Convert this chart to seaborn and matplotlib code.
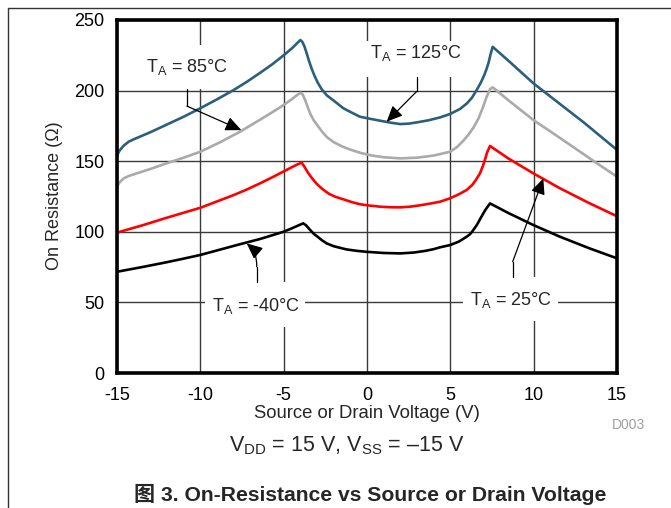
import numpy as np
import pandas as pd
import matplotlib
matplotlib.use("Agg")
import matplotlib.pyplot as plt
import seaborn as sns
from matplotlib.patches import Rectangle
from matplotlib.lines import Line2D

# ---------------- data ----------------
v_125 = [-15, -14.85, -14.6, -14.3, -14, -13, -12, -11, -10, -9, -8, -7.2, -6.4, -5.7, -5,
         -4.5, -4.2, -4.0, -3.88, -3.76, -3.62, -3.48, -3.32, -3.15, -2.95, -2.72, -2.4, -2.04,
         -1.42, -0.9, -0.42, 0.2, 0.78, 1.4, 2.0, 2.5, 3.0, 3.7, 4.38, 5.0, 5.58, 6.0, 6.3,
         6.58, 6.8, 7.0, 7.15, 7.3, 7.42, 7.54, 8.5, 10, 11.58, 13, 15]
r_125 = [154, 157.5, 161, 163.8, 165.5, 170.5, 176, 181.5, 187.5, 193.8, 200.4, 206.3, 212.7,
         218.5, 225, 230, 233.5, 235.8, 234.5, 231.5, 226.5, 221, 215.5, 210.5, 205.5, 201,
         196.5, 193.3, 187.5, 184.3, 181.5, 180, 178.7, 177.3, 176.3, 176.6, 177.5, 179, 181,
         183.5, 187, 191, 195, 200.4, 205, 210, 214.5, 220, 226, 231, 221, 205, 190.5, 177.5,
         158]

v_85 = [-15, -14.85, -14.6, -14.3, -13, -12, -11, -10, -8.8, -7.6, -6.4, -5.5, -5, -4.5, -4.2,
        -3.98, -3.85, -3.7, -3.55, -3.4, -3.2, -3.0, -2.7, -2.4, -2.0, -1.5, -1.02, -0.42,
        0.3, 1.0, 2.0, 3.0, 4.0, 4.98, 5.4, 5.78, 6.1, 6.4, 6.7, 6.95, 7.18, 7.38, 7.54, 8.5,
        10, 11.2, 12.5, 13.8, 15]
r_85 = [132, 135, 137.8, 139.5, 144.5, 148.6, 152.5, 156.7, 163.5, 171, 179.5, 186, 189.8,
        194, 196.8, 198.5, 197, 193, 188, 183.5, 179, 175.8, 171, 167, 163.5, 160.5, 158.3,
        156, 154, 152.8, 152, 152.5, 154, 156.7, 160, 164.5, 169, 174, 180.5, 188, 195.7,
        201, 202.3, 193, 179, 169.5, 159, 148.5, 139]

v_25 = [-15, -13.5, -12, -11, -10, -9, -8, -7.2, -6.42, -5.7, -5.02, -4.5, -4.2, -3.92, -3.75,
        -3.55, -3.3, -3.02, -2.7, -2.3, -1.9, -1.42, -0.9, -0.42, 0.2, 0.78, 1.4, 2.0, 2.6,
        3.2, 3.8, 4.38, 4.98, 5.5, 5.98, 6.3, 6.55, 6.78, 6.95, 7.08, 7.2, 7.38, 8.5, 9.98,
        11.58, 13.3, 15]
r_25 = [99.4, 104.5, 110, 113.5, 117, 121.5, 126, 130, 134.3, 138.5, 142.6, 145.8, 147.6, 149,
        146, 142, 138, 134, 130.5, 127, 124.8, 123, 121, 119.5, 118.5, 117.8, 117.4, 117.3,
        117.8, 118.8, 120, 121.3, 123.7, 126.5, 129.6, 133, 137, 141.4, 146.5, 151, 156,
        160.8, 151.8, 141.4, 130.8, 120.5, 111]

v_m40 = [-15, -13.5, -12, -11, -10, -9, -8, -7.2, -6.42, -5.7, -5.02, -4.5, -4.1, -3.82, -3.65,
         -3.45, -3.22, -3.0, -2.7, -2.42, -2.0, -1.6, -1.22, -0.6, 0, 1.0, 2.0, 2.8, 3.5, 4.0,
         4.38, 4.98, 5.5, 5.98, 6.2, 6.38, 6.6, 6.88, 7.1, 7.38, 8.5, 9.98, 11.58, 13.3, 15]
r_m40 = [71.7, 75, 78.5, 81, 83.6, 86.8, 90, 92.5, 94.9, 97.5, 100, 102.5, 104.6, 106, 104.5,
         101.8, 98.9, 96.8, 94, 91.8, 89.8, 88.6, 87.5, 86.5, 85.8, 85, 84.7, 85.3, 86.5, 87.7,
         89, 90.6, 93, 96.5, 98.5, 101.3, 105, 111, 115.5, 120.1, 113.2, 104.8, 96.5, 88.5,
         81.2]

series = ["125", "85", "25", "-40"]
colors = {"125": "#2b5f7b", "85": "#aaaaaa", "25": "#ff0000", "-40": "#000000"}

x_ticks = [-15, -10, -5, 0, 5, 10, 15]
y_ticks = [0, 50, 100, 150, 200, 250]

df = pd.concat([
    pd.DataFrame({"V": v_125, "R": r_125, "T": "125"}),
    pd.DataFrame({"V": v_85, "R": r_85, "T": "85"}),
    pd.DataFrame({"V": v_25, "R": r_25, "T": "25"}),
    pd.DataFrame({"V": v_m40, "R": r_m40, "T": "-40"}),
], ignore_index=True)

# ---------------- style ----------------
sns.set_theme(style="white")
plt.rcParams["font.family"] = ["Liberation Sans", "Noto Sans CJK SC", "DejaVu Sans"]
plt.rcParams["axes.unicode_minus"] = False
plt.rcParams["mathtext.fontset"] = "custom"
plt.rcParams["mathtext.rm"] = "Liberation Sans"
plt.rcParams["mathtext.it"] = "Liberation Sans:italic"
plt.rcParams["mathtext.bf"] = "Liberation Sans:bold"

W, H = 671, 508
fig = plt.figure(figsize=(W / 100, H / 100), dpi=100)
ax = fig.add_axes([117 / W, 135 / H, 500 / W, 353 / H])

sns.lineplot(data=df, x="V", y="R", hue="T", hue_order=series, palette=colors,
             estimator=None, sort=False, legend=False, lw=1.9, ax=ax, zorder=3,
             solid_joinstyle="round", solid_capstyle="round")

ax.set_xlim(-15, 15)
ax.set_ylim(0, 250)
ax.set_xticks(x_ticks)
ax.set_yticks(y_ticks)
ax.set_xticklabels([str(t) for t in x_ticks])
ax.set_yticklabels([str(t) for t in y_ticks])
ax.tick_params(axis="both", length=0, labelsize=13, colors="black")
ax.tick_params(axis="x", pad=10)
ax.tick_params(axis="y", pad=9)
ax.set_xlabel("")
ax.set_ylabel("")
ax.grid(True, color="#3a3a3a", lw=1.0)
ax.set_axisbelow(True)
for s in ax.spines.values():
    s.set_linewidth(2.6)
    s.set_color("black")
    s.set_zorder(5)

# ---------------- label boxes & annotations ----------------
def label(cx, cy, txt, box):
    x0, x1, y0, y1 = box
    ax.add_patch(Rectangle((x0, y0), x1 - x0, y1 - y0, facecolor="white",
                           edgecolor="none", zorder=2))
    ax.text(cx, cy, txt, ha="center", va="center", fontsize=13, zorder=4)

def arrow(p0, p1, tip, rad=0.0):
    ax.plot([p0[0], p1[0]], [p0[1], p1[1]], color="black", lw=0.9, zorder=4)
    ax.annotate("", xy=tip, xytext=p1,
                arrowprops=dict(arrowstyle="-|>,head_length=0.6,head_width=0.27",
                                color="black", lw=0.9, mutation_scale=16,
                                shrinkA=0, shrinkB=0,
                                connectionstyle=f"arc3,rad={rad}"),
                zorder=4)

label(-10.8, 216.5, r"T$_{\rm A}$ = 85°C", (-13.56, -8.04, 201.1, 232.3))
arrow((-10.8, 201.1), (-10.8, 189), (-7.54, 172))

label(2.94, 226.5, r"T$_{\rm A}$ = 125°C", (-0.18, 6.06, 209.6, 235))
arrow((2.98, 209.6), (2.98, 199.4), (1.18, 178))

label(-6.66, 47.5, r"T$_{\rm A}$ = -40°C", (-9.72, -3.72, 32.6, 64.4))
arrow((-6.62, 64.4), (-6.62, 75.3), (-7.22, 91.8), rad=0.25)

label(8.64, 52.0, r"T$_{\rm A}$ = 25°C", (5.76, 11.46, 36.8, 68.0))
arrow((8.74, 68.0), (8.74, 78.8), (10.58, 137.8))

# ---------------- figure texts ----------------
def fx(px):
    return px / W

def fy(py):
    return 1 - py / H

fig.text(fx(367), fy(413), "Source or Drain Voltage (V)", ha="center", va="center",
         fontsize=13.3)
fig.text(fx(55), fy(196), "On Resistance (Ω)", ha="center", va="center",
         rotation=90, fontsize=13)
fig.text(fx(645), fy(425), "D003", ha="right", va="center", fontsize=10, color="#a0a0a0")
fig.text(fx(347), fy(446), r"V$_{\rm DD}$ = 15 V, V$_{\rm SS}$ = –15 V",
         ha="center", va="center", fontsize=15.5)
fig.text(fx(370), fy(494), "图 3. On-Resistance vs Source or Drain Voltage",
         ha="center", va="center", fontsize=15.2, fontweight="bold",
         family=["Liberation Sans", "Noto Sans CJK SC"])

# page frame lines
fig.add_artist(Line2D([fx(8.3), 1.0], [fy(7.7), fy(7.7)], color="#333333", lw=1.0))
fig.add_artist(Line2D([fx(8.3), fx(8.3)], [fy(7.7), 0.0], color="#333333", lw=1.0))

fig.savefig("out.png", dpi=100)
